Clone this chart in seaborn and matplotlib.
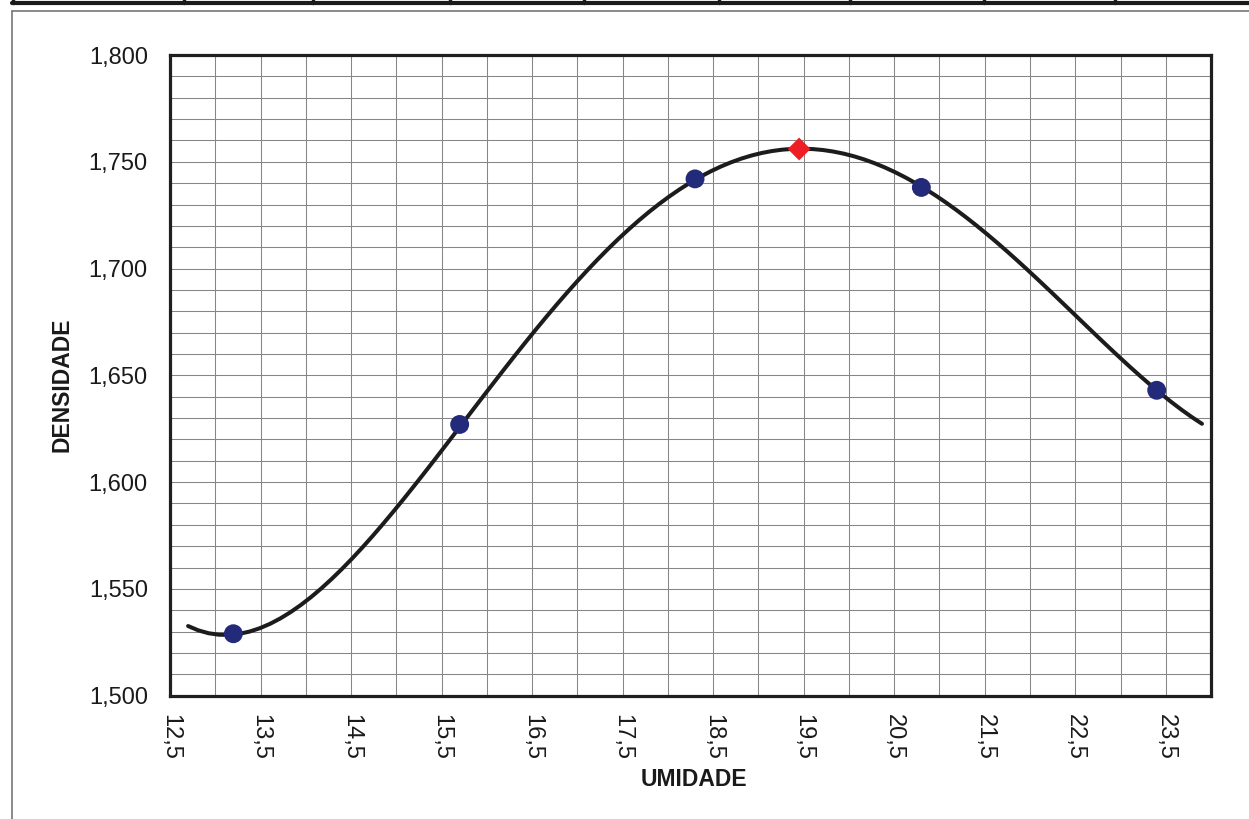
"""Curva de compactação: densidade x umidade, com ponto ótimo em destaque."""
import numpy as np
import pandas as pd
import matplotlib
matplotlib.use("Agg")
import matplotlib.pyplot as plt
from matplotlib.ticker import MultipleLocator, FuncFormatter
import seaborn as sns

umidade = [13.2, 15.7, 18.3, 20.8, 23.4]
densidade = [1.529, 1.627, 1.742, 1.738, 1.643]

# ponto ótimo (máximo da curva)
umidade_otima = [19.45]
densidade_max = [1.756]

# curva de compactação
curva_umidade = [12.7, 12.85, 13.0, 13.25, 13.5, 13.75, 14.0, 14.25, 14.5, 15.0, 15.5,
                 16.0, 16.5, 17.0, 17.5, 18.0, 18.5, 19.0, 19.5, 20.0, 20.5,
                 21.0, 21.5, 22.0, 22.5, 23.0, 23.5, 23.9]
curva_densidade = [1.5323, 1.5302, 1.5289, 1.5292, 1.5318, 1.5362, 1.5429, 1.5534, 1.5651,
                   1.5888, 1.6158, 1.6408, 1.6686, 1.6931, 1.7165, 1.7337, 1.7463,
                   1.7535, 1.7559, 1.7532, 1.7462, 1.7330, 1.7173, 1.6985, 1.6775,
                   1.6572, 1.6400, 1.6276]

df_pontos = pd.DataFrame({"umidade": umidade, "densidade": densidade})
df_curva = pd.DataFrame({"umidade": curva_umidade, "densidade": curva_densidade})
df_otimo = pd.DataFrame({"umidade": umidade_otima, "densidade": densidade_max})

sns.set_theme(style="white")
plt.rcParams["font.family"] = ["Liberation Sans", "DejaVu Sans"]

fig = plt.figure(figsize=(12.49, 8.19), dpi=100)
ax = fig.add_axes([0.1361, 0.1506, 0.8335, 0.7822])

# grade fina
ax.xaxis.set_major_locator(MultipleLocator(1.0))
ax.xaxis.set_minor_locator(MultipleLocator(0.5))
ax.yaxis.set_major_locator(MultipleLocator(0.05))
ax.yaxis.set_minor_locator(MultipleLocator(0.01))
ax.grid(True, which="both", color="#868686", linewidth=0.75)
ax.set_axisbelow(True)

# curva suavizada (polinômio de 4º grau, como no ensaio)
sns.regplot(data=df_curva, x="umidade", y="densidade", order=4, ci=None,
            scatter=False, truncate=True, ax=ax,
            line_kws={"color": "#1c1c1c", "linewidth": 2.9, "zorder": 3})
sns.scatterplot(data=df_pontos, x="umidade", y="densidade", color="#232a7a",
                s=185, edgecolor="none", ax=ax, zorder=4)
sns.scatterplot(data=df_otimo, x="umidade", y="densidade", color="#ee1f24",
                marker="D", s=135, edgecolor="none", ax=ax, zorder=5)

ax.set_xlim(12.5, 24.0)
ax.set_ylim(1.5, 1.8)
ax.set_xticks(np.arange(12.5, 24.0, 1.0))

ax.xaxis.set_major_formatter(FuncFormatter(lambda v, p: f"{v:.1f}".replace(".", ",")))
ax.yaxis.set_major_formatter(FuncFormatter(lambda v, p: f"{v:.3f}".replace(".", ",")))

ax.tick_params(axis="both", which="major", labelsize=17, colors="#888888",
               labelcolor="#1a1a1a", length=7, width=1, direction="out")
ax.tick_params(axis="x", which="major", pad=6, labelrotation=-90)
ax.tick_params(axis="y", which="major", pad=9)
ax.tick_params(which="minor", length=0)

for s in ax.spines.values():
    s.set_color("#1f1f1f")
    s.set_linewidth(2.3)

ax.set_xlabel("UMIDADE", fontsize=16.5, fontweight="bold", color="#1a1a1a")
ax.set_ylabel("DENSIDADE", fontsize=16.5, fontweight="bold", color="#1a1a1a")
ax.xaxis.set_label_coords(0.503, -0.113)
ax.yaxis.set_label_coords(-0.093, 0.486)

# moldura e linha da tabela superior
W, H = 1249, 819
fig.add_artist(plt.Line2D([12 / W, 1], [1 - 11 / H] * 2, color="#777777", lw=1.2))
fig.add_artist(plt.Line2D([12 / W] * 2, [0, 1 - 11 / H], color="#777777", lw=1.2))
fig.add_artist(plt.Line2D([12 / W, 1], [1 - 3 / H] * 2, color="#1a1a1a", lw=3))
for xd in [13, 184, 313, 450, 584, 719, 850, 984, 1115]:
    fig.add_artist(plt.Line2D([xd / W] * 2, [1 - 3 / H, 1], color="#1a1a1a", lw=2.5))

fig.savefig("out.png", dpi=100)
